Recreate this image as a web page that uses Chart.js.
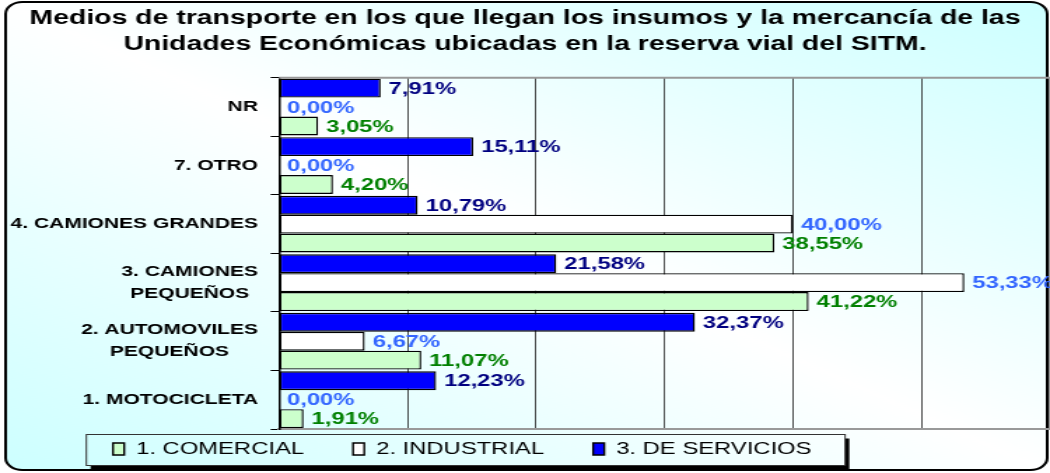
<!DOCTYPE html>
<html><head><meta charset="utf-8">
<script src="https://cdn.jsdelivr.net/npm/chart.js"></script>
<style>
html,body{margin:0;padding:0;background:#fff;overflow:hidden}
</style></head><body>
<canvas id="c" width="750" height="473" style="display:block;width:1050px;height:473px"></canvas>
<script>
// ---- data ----
const titleLines = ['Medios de transporte en los que llegan los insumos y la mercancía de las',
                    'Unidades Económicas ubicadas en la reserva vial del SITM.'];
const categories = ['NR', '7. OTRO', '4. CAMIONES GRANDES', ['3. CAMIONES', 'PEQUEÑOS'], ['2. AUTOMOVILES', 'PEQUEÑOS'], '1. MOTOCICLETA'];
const seriesNames = ['3. DE SERVICIOS', '2. INDUSTRIAL', '1. COMERCIAL'];
const servicios  = [7.91, 15.11, 10.79, 21.58, 32.37, 12.23];
const industrial = [0.00, 0.00, 40.00, 53.33, 6.67, 0.00];
const comercial  = [3.05, 4.20, 38.55, 41.22, 11.07, 1.91];
const xMin = 0, xMax = 60, xStep = 10;

// ---- styling ----
const SX = 1.4;                       // horizontal stretch of the canvas (1050 / 750)
const FONT = '"Liberation Sans", Arial, sans-serif';
const barColors = ['#0000ff', '#ffffff', '#ccffcc'];
const labelColors = ['#000080', '#3366ff', '#008000'];
const PLOT_LEFT = 279 / SX;
const LEG_PAD = 35, LEG_FONT = 17;
const LEG_X = 113 / SX, LEG_CY = 449;

function bgGradient(ctx, w, h) {
  const cx = w / 2, cy = h / 2, len = Math.hypot(w, h);
  const ux = h / len, uy = -w / len;
  const d = (w / 2) * ux + (-h / 2) * uy;
  const g = ctx.createLinearGradient(cx - d * ux, cy - d * uy, cx + d * ux, cy + d * uy);
  g.addColorStop(0, '#ccffff'); g.addColorStop(0.5, '#ffffff'); g.addColorStop(1, '#ccffff');
  return g;
}

function placeLegend(chart) {
  const lg = chart.legend;
  const w = lg.right - lg.left;
  lg.left = LEG_X - LEG_PAD;
  lg.right = lg.left + w;
  lg.top = LEG_CY - LEG_FONT / 2 - LEG_PAD;
  lg.bottom = chart.height;
  lg.height = lg.bottom - lg.top;
}

const decoPlugin = {
  id: 'deco',
  afterInit(chart) {
    const lg = chart.legend;
    const fit0 = lg.fit;
    lg.fit = function () { fit0.call(this); this.height = 44; };
  },
  afterLayout(chart) { placeLegend(chart); },
  beforeDraw(chart) {
    const {ctx, width: w, height: h} = chart;
    placeLegend(chart);
    const g = bgGradient(ctx, w, h);
    ctx.save();
    ctx.fillStyle = '#ffffff'; ctx.fillRect(0, 0, w, h);
    ctx.beginPath(); ctx.roundRect(4, 2, w - 6, h - 5, 12);
    ctx.fillStyle = g; ctx.fill();
    ctx.lineWidth = 2; ctx.strokeStyle = '#000'; ctx.stroke();
    // legend frame, from the legend's own geometry
    const lg = chart.legend;
    const itemsLeft = lg.left + LEG_PAD;
    const itemsRight = itemsLeft + lg.lineWidths[0] - LEG_PAD;
    const itemTop = lg.top + LEG_PAD;
    const x0 = itemsLeft - 19, x1 = itemsRight + 24;
    const y0 = itemTop - 6, y1 = itemTop + LEG_FONT + 8;
    ctx.fillStyle = '#000'; ctx.fillRect(x0 + 3, y0 + 4, x1 - x0, y1 - y0);
    ctx.fillStyle = g; ctx.fillRect(x0, y0, x1 - x0, y1 - y0);
    ctx.lineWidth = 1; ctx.strokeStyle = '#333'; ctx.strokeRect(x0, y0, x1 - x0, y1 - y0);
    ctx.restore();
    // y labels: multi-line labels centred among their lines
    const ys = chart.scales.y;
    if (!ys.__patched) {
      const orig = ys._computeLabelItems;
      ys._computeLabelItems = function (ca) {
        const items = orig.call(this, ca);
        const c = this.ctx;
        items.forEach(it => {
          if (Array.isArray(it.label) && it.label.length > 1) {
            c.save(); c.font = it.font.string;
            const mw = Math.max(...it.label.map(s => c.measureText(s).width));
            c.restore();
            it.options.textAlign = 'center';
            it.options.translation = [it.options.translation[0] - mw / 2, it.options.translation[1]];
          }
        });
        return items;
      };
      ys.__patched = true;
      ys._labelItems = null;
    }
  },
  beforeDatasetsDraw(chart) {
    const {ctx, chartArea: a} = chart;
    ctx.save();
    ctx.strokeStyle = '#999'; ctx.lineWidth = 2;
    ctx.beginPath(); ctx.moveTo(a.left, a.top); ctx.lineTo(a.right, a.top); ctx.stroke();
    ctx.restore();
  },
  afterDatasetsDraw(chart) {
    const ctx = chart.ctx;
    ctx.save();
    ctx.font = 'bold 17px ' + FONT;
    ctx.textBaseline = 'middle'; ctx.textAlign = 'left';
    chart.data.datasets.forEach((ds, i) => {
      const meta = chart.getDatasetMeta(i);
      meta.data.forEach((bar, j) => {
        ctx.fillStyle = labelColors[i];
        ctx.fillText(ds.data[j].toFixed(2).replace('.', ',') + '%', bar.x + 5.7, bar.y + 1);
      });
    });
    ctx.restore();
  }
};

new Chart(document.getElementById('c'), {
  type: 'bar',
  data: {
    labels: categories,
    datasets: [
      {label: seriesNames[0], data: servicios, backgroundColor: barColors[0]},
      {label: seriesNames[1], data: industrial, backgroundColor: barColors[1]},
      {label: seriesNames[2], data: comercial, backgroundColor: barColors[2]}
    ].map(d => Object.assign(d, {borderColor: '#000', borderWidth: 1.4, borderSkipped: false,
                                  categoryPercentage: 0.97, barPercentage: 1.0}))
  },
  options: {
    indexAxis: 'y',
    responsive: false,
    animation: false,
    devicePixelRatio: 1,
    layout: {padding: {top: 0, left: 0, right: 0, bottom: 0}},
    scales: {
      x: {
        min: xMin, max: xMax,
        ticks: {display: false, stepSize: xStep},
        grid: {drawTicks: false,
               color: c => (c.tick && c.tick.value === xMax) ? '#999' : '#222',
               lineWidth: c => (c.tick && c.tick.value === xMax) ? 1.5 : 0.8},
        border: {display: true, color: '#999', width: 2}
      },
      y: {
        grid: {display: true, drawOnChartArea: false, drawTicks: true, tickLength: 6, color: '#000', lineWidth: 1},
        border: {display: true, color: '#000', width: 1.5},
        ticks: {color: '#000', padding: 9, autoSkip: false,
                font: {family: FONT, size: 15, weight: 'bold', lineHeight: 1.45}},
        afterFit(s) { s.width = PLOT_LEFT; }
      }
    },
    plugins: {
      title: {display: true, text: titleLines, color: '#000',
              font: {family: FONT, size: 20.3, weight: 'bold', lineHeight: 1.3},
              padding: {top: 5, bottom: 20}},
      legend: {position: 'bottom', align: 'start', reverse: true,
               labels: {boxWidth: 8, boxHeight: 12, padding: LEG_PAD, color: '#000',
                        font: {family: FONT, size: LEG_FONT}}},
      tooltip: {enabled: false}
    }
  },
  plugins: [decoPlugin]
});
</script>
</body></html>
